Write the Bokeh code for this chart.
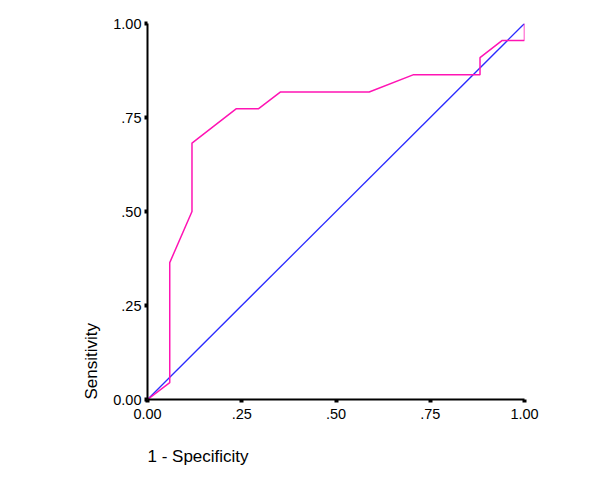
from bokeh.plotting import figure
from bokeh.models import FixedTicker, Range1d, Title
from bokeh.embed import file_html
from bokeh.resources import INLINE

# ROC curve (1 - specificity, sensitivity)
fpr = [0.0, 0.059, 0.059, 0.118, 0.118, 0.176, 0.235, 0.294, 0.353, 0.588, 0.706, 0.882, 0.882, 0.941, 1.0, 1.0]
tpr = [0.0, 0.045, 0.364, 0.5, 0.682, 0.727, 0.773, 0.773, 0.818, 0.818, 0.864, 0.864, 0.909, 0.955, 0.955, 1.0]

# reference line
ref_x = [0.0, 1.0]
ref_y = [0.0, 1.0]

tick_vals = [0.0, 0.25, 0.5, 0.75, 1.0]
tick_labels = ["0.00", ".25", ".50", ".75", "1.00"]

FONT = "Liberation Sans"

p = figure(width=600, height=489, output_backend="svg", toolbar_location=None,
           x_range=Range1d(0, 1), y_range=Range1d(0, 1),
           min_border_left=147, min_border_right=76, min_border_top=23, min_border_bottom=90)
p.outline_line_color = None
p.grid.visible = False
p.background_fill_color = "white"
p.border_fill_color = "white"

for ax in (p.xaxis[0], p.yaxis[0]):
    ax.ticker = FixedTicker(ticks=tick_vals)
    ax.major_label_overrides = {v: l for v, l in zip(tick_vals, tick_labels)}
    ax.minor_tick_line_color = None
    ax.major_tick_in = 0
    ax.major_tick_out = 3
    ax.major_tick_line_width = 4
    ax.major_tick_line_color = "black"
    ax.axis_line_width = 2
    ax.axis_line_color = "black"
    ax.major_label_text_font = FONT
    ax.major_label_text_font_size = "14.5px"
    ax.major_label_text_color = "black"
p.xaxis[0].major_label_standoff = 6
p.yaxis[0].major_label_standoff = 3

p.line(ref_x, ref_y, line_color="#2b2bff", line_width=1.3)
p.line(fpr, tpr, line_color="#ff14b4", line_width=1.5)

p.add_layout(Title(text="1 - Specificity", align="left", text_font=FONT,
                   text_font_size="17px", text_font_style="normal",
                   text_color="black", standoff=46), "below")
p.add_layout(Title(text="Sensitivity", align="left", text_font=FONT,
                   text_font_size="17px", text_font_style="normal",
                   text_color="black", standoff=20), "left")

open("out.html", "w").write(file_html(p, INLINE))
